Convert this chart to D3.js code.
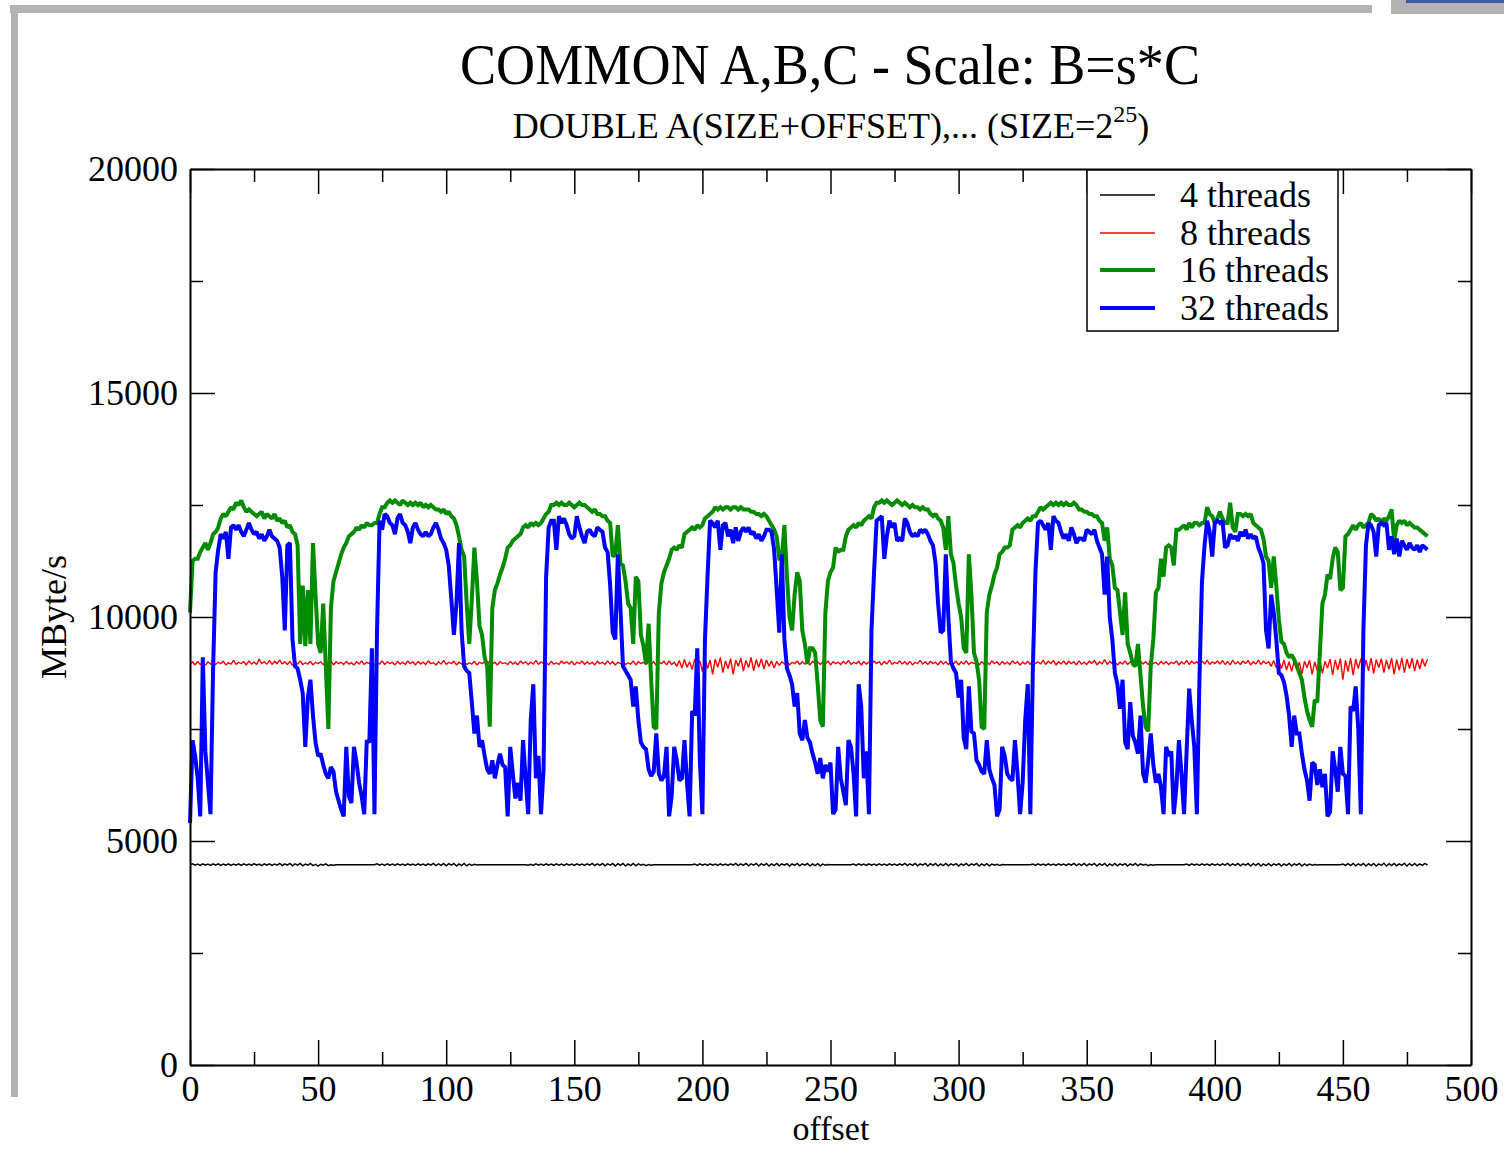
<!DOCTYPE html>
<html>
<head>
<meta charset="utf-8">
<script src="https://d3js.org/d3.v7.min.js"></script>
<style>
  body { margin: 0; background: #fff; }
  svg text { font-family: "Liberation Serif", "Times New Roman", serif; fill: #000; }
</style>
</head>
<body>
<div id="chart"></div>
<script>
// one value (MByte/s) per offset 0..483
var threads4 = [
4470,4490,4460,4485,4455,4490,4460,4485,4455,4490,
4460,4490,4455,4485,4460,4490,4455,4485,4460,4490,
4455,4490,4460,4485,4455,4495,4460,4485,4450,4490,
4460,4490,4455,4485,4460,4500,4450,4490,4460,4500,
4445,4490,4460,4500,4445,4485,4460,4500,4450,4480,
4440,4480,4460,4490,4450,4470,4460,4470,4470,4470,
4470,4470,4470,4470,4470,4470,4470,4470,4470,4470,
4470,4470,4470,4490,4460,4485,4455,4490,4460,4485,
4455,4490,4460,4485,4455,4490,4460,4485,4455,4490,
4460,4485,4455,4490,4460,4500,4450,4490,4455,4500,
4445,4495,4460,4500,4440,4490,4450,4500,4445,4485,
4455,4480,4465,4470,4470,4470,4470,4470,4470,4470,
4470,4470,4470,4470,4470,4470,4470,4470,4470,4470,
4470,4470,4460,4480,4455,4490,4460,4485,4455,4490,
4460,4485,4455,4490,4460,4485,4455,4490,4460,4485,
4455,4490,4460,4485,4455,4490,4460,4500,4450,4490,
4455,4500,4445,4490,4460,4500,4440,4495,4455,4500,
4440,4490,4450,4500,4445,4490,4460,4480,4450,4475,
4460,4470,4470,4470,4470,4470,4470,4470,4470,4470,
4470,4470,4470,4470,4470,4470,4470,4485,4455,4490,
4460,4485,4455,4490,4460,4485,4455,4490,4460,4485,
4455,4490,4460,4500,4450,4490,4455,4500,4445,4490,
4460,4500,4440,4495,4455,4500,4440,4490,4450,4500,
4445,4490,4460,4495,4440,4490,4455,4500,4445,4490,
4460,4500,4440,4490,4450,4495,4445,4485,4460,4475,
4470,4470,4470,4470,4470,4470,4470,4470,4470,4485,
4455,4490,4460,4485,4455,4490,4460,4485,4455,4490,
4460,4485,4455,4490,4460,4485,4455,4490,4460,4500,
4450,4490,4455,4500,4445,4490,4460,4500,4440,4495,
4455,4500,4440,4490,4450,4500,4445,4490,4460,4495,
4440,4490,4455,4500,4445,4490,4460,4500,4440,4490,
4450,4495,4445,4485,4460,4480,4455,4475,4470,4470,
4470,4470,4470,4470,4470,4470,4470,4470,4470,4485,
4455,4490,4460,4485,4455,4490,4460,4485,4455,4490,
4460,4485,4455,4490,4460,4500,4450,4490,4455,4500,
4445,4490,4460,4500,4440,4495,4455,4500,4440,4490,
4450,4500,4445,4490,4460,4495,4440,4490,4455,4500,
4445,4490,4460,4480,4450,4475,4460,4470,4470,4470,
4470,4470,4470,4470,4470,4470,4470,4470,4470,4485,
4455,4490,4460,4485,4455,4490,4460,4485,4455,4490,
4460,4485,4455,4490,4460,4500,4450,4490,4455,4500,
4445,4490,4460,4500,4440,4495,4455,4500,4440,4490,
4450,4500,4445,4490,4460,4495,4440,4490,4455,4500,
4445,4490,4460,4500,4440,4490,4450,4485,4460,4475,
4465,4470,4470,4470,4470,4470,4470,4470,4470,4470,
4485,4455,4495,4450,4500,4445,4490,4455,4500,4440,
4495,4450,4500,4440,4490,4455,4505,4440,4495,4450,
4500,4445,4490,4455,4505,4440,4495,4450,4500,4445,
4490,4455,4500,4460
];

var threads8 = [
8950,9000,8930,9010,8940,8990,8920,9000,8950,9020,
8940,8990,8960,9010,8930,8980,8950,9030,8940,8990,
8960,9000,8930,9020,8950,8990,8940,9060,8960,9000,
8950,9030,8940,9010,8960,9040,8950,9000,8940,9010,
8920,8990,8950,9020,8940,8980,8950,9010,8930,8990,
8960,9000,8940,8990,8950,9020,8930,9000,8960,8990,
8940,9010,8950,8980,8930,9000,8950,9020,8940,8990,
8960,9010,8930,8990,8950,9020,8940,9000,8960,8990,
8930,9010,8950,8990,8940,9020,8960,9000,8930,9010,
8950,8990,8940,9020,8960,8980,8930,9000,8950,9030,
8940,8990,8960,9010,8930,8990,8950,9020,8940,8980,
8950,9010,8930,8990,8960,9000,8940,9020,8950,8990,
8930,9000,8960,8980,8940,9010,8950,8990,8930,9020,
8960,9000,8940,8990,8950,9030,8940,9000,8960,8990,
8930,9010,8950,8980,8940,9020,8960,9000,8950,9010,
8930,8990,8960,9020,8940,9000,8950,8990,8930,9010,
8960,8990,8940,9020,8950,9000,8930,8990,8960,9010,
8940,8980,8950,9020,8930,9000,8960,8990,8940,9010,
8950,9000,8920,8990,8960,9010,8930,9020,8940,8990,
8900,9030,8860,9050,8880,9000,8830,9060,8900,9020,
8780,9080,8850,9040,8720,9060,8880,9100,8760,9020,
8850,9070,8720,9040,8900,9080,8790,9030,8870,9100,
8800,9050,8880,9070,8840,9040,8900,9020,8860,9010,
8920,9000,8950,9010,8930,8990,8960,9020,8940,9000,
8950,8990,8930,9010,8960,9000,8940,8990,8950,9020,
8930,9000,8960,8990,8940,9010,8950,9030,8940,8990,
8960,9010,8930,9000,8950,8990,8940,9020,8960,9000,
8930,9010,8950,9040,8940,8990,8960,9020,8950,9000,
8940,9010,8930,8990,8960,9030,8950,9000,8940,9010,
8960,8990,8930,9020,8950,9000,8940,8990,8960,9010,
8930,9000,8950,9020,8940,8990,8960,9010,8930,9000,
8950,8990,8940,9020,8960,9000,8930,9010,8950,8990,
8940,9020,8960,9000,8930,8990,8950,9010,8940,9030,
8960,9000,8950,9040,8940,9010,8960,9030,8930,9000,
8950,9020,8940,9010,8960,9000,8930,9020,8950,8990,
8940,9010,8960,9030,8930,9000,8950,9050,8940,9010,
8960,9000,8930,8990,8950,9020,8940,9000,8960,8990,
8930,9010,8950,9000,8940,9020,8960,8990,8930,9010,
8950,9000,8940,8990,8960,9020,8930,9000,8950,9030,
8940,9010,8960,9000,8930,9020,8950,9040,8940,9000,
8960,9020,8950,9030,8940,9010,8930,9040,8950,9000,
8940,9020,8960,9030,8930,9000,8950,9040,8940,9010,
8960,9000,8900,9030,8870,9010,8850,9040,8820,9000,
8790,9020,8850,8990,8730,9010,8870,9040,8720,9000,
8800,9050,8740,9010,8860,9060,8700,9040,8820,9070,
8600,9030,8780,9080,8700,9060,8850,9070,8720,9040,
8800,9080,8740,9050,8870,9070,8760,9040,8830,9080,
8720,9050,8810,9090,8760,9060,8850,9080,8790,9050,
8840,9070,8900,9060
];

var threads16 = [
10100,11250,11300,11300,11450,11550,11650,11500,11650,11850,
11900,12000,12200,12300,12250,12350,12450,12400,12550,12500,
12600,12450,12350,12400,12350,12300,12250,12300,12350,12200,
12300,12250,12200,12300,12150,12200,12100,12150,12000,12050,
11900,11850,11600,9400,10700,9350,10600,9400,11650,10500,
9400,9200,10300,8900,7500,10200,10800,11000,11200,11400,
11550,11650,11800,11850,11900,12000,11950,12050,12000,12100,
12050,12050,12100,12100,12300,12450,12450,12550,12600,12550,
12600,12550,12500,12600,12550,12500,12550,12500,12550,12500,
12550,12450,12500,12450,12500,12450,12400,12400,12350,12400,
12300,12350,12250,12200,12050,11800,11500,11350,10300,9400,
10400,11550,10800,9800,9600,9100,8900,7550,10200,10600,
10750,10950,11100,11300,11550,11600,11700,11750,11800,11850,
12000,12050,12000,12100,12050,12100,12050,12100,12200,12300,
12350,12500,12500,12550,12500,12550,12500,12500,12550,12500,
12450,12500,12550,12500,12500,12450,12400,12350,12400,12300,
12300,12250,12250,12150,12100,11350,11400,12050,11200,11150,
10800,10300,10200,9400,10900,10800,9600,9350,8950,9850,
8600,7550,7500,10100,10750,11000,11150,11300,11500,11550,
11500,11600,11550,11850,11900,11950,12000,11950,12050,12000,
12050,12200,12250,12300,12350,12450,12400,12450,12400,12450,
12450,12400,12450,12450,12400,12450,12400,12400,12400,12350,
12350,12300,12300,12250,12300,12250,12150,12050,11950,11800,
11300,11300,12050,10900,10000,9700,10500,11000,10800,9700,
9400,8950,9300,9300,9200,8500,7700,7550,10100,10800,
11000,11100,11550,11450,11500,11500,11800,11950,12000,12050,
12000,12100,12050,12150,12200,12250,12200,12450,12550,12550,
12600,12550,12600,12550,12500,12550,12600,12550,12500,12550,
12500,12450,12500,12450,12450,12400,12450,12400,12400,12300,
12250,12300,12200,12150,12000,11500,12250,11400,11200,10700,
10300,10000,9300,9200,11400,10500,9200,9000,8600,7550,
7500,10100,10500,10700,10950,11100,11400,11450,11550,11550,
11600,11950,12000,12050,12000,12100,12150,12200,12150,12250,
12250,12350,12450,12400,12450,12500,12550,12500,12550,12500,
12550,12500,12550,12500,12500,12550,12500,12400,12400,12350,
12350,12300,12300,12250,12250,12150,12100,11700,12000,11300,
11150,10650,10600,10100,9600,10550,9400,9200,8950,8900,
9400,8700,8000,7550,7450,8900,9500,10550,10650,11300,
10900,11550,11600,11550,11150,11950,11950,12000,12050,11950,
12100,12000,12100,12100,12050,12100,12100,12450,12300,12250,
12100,12200,12350,12200,12100,12100,12550,12000,11900,12300,
12300,12250,12300,12250,12300,12100,12050,12000,11950,11750,
11350,11250,10650,11350,10700,9950,9450,9400,9200,9100,
9150,9050,8900,8750,8600,8200,7900,7700,7550,8150,
8100,9200,10300,10500,10950,10850,11300,11550,11450,10600,
10650,11800,11850,11950,12050,11950,12050,12100,12000,12050,
12100,12300,12250,12150,12200,12100,12200,12150,12250,12400,
11700,12050,12150,12100,12150,12050,12100,12050,12000,12000,
11950,11900,11850,11800
];

var threads32 = [
5400,7250,6900,6400,5550,9100,7000,6300,5600,8800,
11000,11500,11850,11750,11900,11300,12000,12050,11950,12050,
11900,11800,11950,12100,11950,11850,11900,11750,11850,11700,
11800,11950,11800,11750,11700,11550,10900,9700,11600,11650,
9500,8900,8850,8600,8300,7100,8200,8600,7800,7200,
6900,6950,6700,6500,6400,6650,6550,6100,5900,5700,
5550,7100,6000,5850,7100,6750,6300,6000,5600,7250,
7200,9300,5600,9700,12150,11950,12300,12250,12100,12050,
11850,12200,12300,12100,12050,11900,11650,12000,12100,11950,
11850,11800,11900,11800,11850,12000,12100,11950,11750,11650,
11500,11150,10400,9600,10300,11650,9700,8900,8800,8750,
8100,7400,7800,7100,7250,6900,6600,6500,6800,6400,
6700,6950,6700,6650,5550,7100,6500,5950,6300,5900,
7250,6400,5600,7700,8500,6400,6900,5600,6600,10900,
12000,12150,12150,11500,12250,12100,12200,12050,11850,11750,
11800,12250,12000,11800,11650,11900,11950,11850,11800,12000,
11950,11900,11550,11450,10700,9650,9500,11400,10200,8900,
8800,8700,8600,8000,8450,7700,7200,7100,7050,6600,
6450,6550,7400,6500,6350,6450,7100,5550,6000,7100,
6800,6350,6400,7250,6300,5550,7900,7800,9300,6800,
5600,9500,10900,12150,12100,12000,12150,11500,12050,12100,
11800,11950,11650,12000,11700,11900,12000,11900,12000,11850,
11900,11750,11850,11700,11800,11950,11950,11900,11500,10600,
9650,11400,9500,8850,8700,8500,8000,8300,7400,7250,
7700,7300,7200,6950,6750,6500,6850,6400,6700,6550,
6750,5600,5700,7100,6400,6100,5800,7250,7100,6500,
5550,8500,8000,6400,7000,5600,9700,11000,12150,12200,
12250,11300,11800,12150,12000,12100,11700,11750,11700,12200,
12100,11900,11800,11850,11800,11950,11900,11950,11850,11700,
11600,11200,10300,9650,9700,11400,10000,9000,8850,8750,
8200,8600,7300,7050,8450,7450,7400,6800,6700,6550,
6500,7250,6600,6400,6250,5550,5700,7100,6900,6500,
6400,6350,7250,6500,5600,6300,7700,8500,5600,8900,
11000,12100,12150,12050,11950,12100,11500,12250,12150,12100,
11900,11750,11850,11700,12000,11850,11650,11750,11750,11700,
11950,11900,11850,11950,11700,11550,11400,10500,11350,10000,
9500,8750,8500,7950,8600,7200,7050,8100,7350,7200,
6950,7800,6500,6300,6800,7400,6700,6300,6500,6200,
5600,7100,6900,7000,5600,6200,7250,6500,5600,7000,
8400,7700,7100,5600,8600,10800,11600,12150,11900,11350,
12100,12150,12100,12150,11550,11600,11850,11750,11800,11700,
11900,11800,11950,11750,11850,11750,11800,11550,11400,11200,
9700,9300,10500,10100,9500,8750,8700,8550,8250,7800,
7100,7800,7400,7400,6950,6600,6350,5900,6750,6700,
6250,6600,6200,6500,5550,5650,7000,6600,6100,7100,
6500,6450,5600,8000,7900,8450,7500,5600,9700,11600,
12100,12050,11900,11350,12050,12100,12050,12100,11500,11800,
11400,11750,11350,11700,11600,11500,11650,11550,11500,11600,
11450,11600,11550,11500
];

var seriesNames = ["4 threads", "8 threads", "16 threads", "32 threads"];
var seriesColors = ["#000000", "#ff0000", "#008b00", "#0000ff"];
var seriesWidths = [1.4, 1.4, 4, 4];
var seriesData = [threads4, threads8, threads16, threads32];

var xTicks = [0, 50, 100, 150, 200, 250, 300, 350, 400, 450, 500];
var xMinorTicks = [25, 75, 125, 175, 225, 275, 325, 375, 425, 475];
var yTicks = [0, 5000, 10000, 15000, 20000];
var yMinorTicks = [2500, 7500, 12500, 17500];

// set the dimensions and margins of the graph
var margin = {top: 169, right: 33, bottom: 84, left: 190},
    width = 1504 - margin.left - margin.right,
    height = 1149 - margin.top - margin.bottom;

var root = d3.select("#chart")
  .append("svg")
    .attr("width", 1504)
    .attr("height", 1149);

root.append("rect").attr("width", 1504).attr("height", 1149).attr("fill", "#fff");

// window frame of the screenshot
root.append("rect").attr("x", 10).attr("y", 5).attr("width", 1362).attr("height", 8).attr("fill", "#b3b3b3");
root.append("rect").attr("x", 11).attr("y", 5).attr("width", 7).attr("height", 1092).attr("fill", "#b3b3b3");
root.append("rect").attr("x", 1391).attr("y", 0).attr("width", 113).attr("height", 14).attr("fill", "#b3b3b3");
root.append("rect").attr("x", 1406).attr("y", 0).attr("width", 98).attr("height", 3).attr("fill", "#3a5ba0");

var svg = root.append("g")
    .attr("transform", "translate(" + margin.left + "," + margin.top + ")");

var x = d3.scaleLinear().domain([0, 500]).range([0, width]);
var y = d3.scaleLinear().domain([0, 20000]).range([height, 0]);

// titles
root.append("text")
  .attr("x", 830).attr("y", 84)
  .attr("text-anchor", "middle")
  .attr("textLength", 740)
  .attr("lengthAdjust", "spacingAndGlyphs")
  .style("font-size", "58px")
  .text("COMMON A,B,C - Scale: B=s*C");

var sub = root.append("text")
  .attr("x", 831).attr("y", 138)
  .attr("text-anchor", "middle")
  .style("font-size", "36px");
sub.append("tspan").text("DOUBLE A(SIZE+OFFSET),... (SIZE=2");
sub.append("tspan").attr("dy", -16).style("font-size", "24px").text("25");
sub.append("tspan").attr("dy", 16).text(")");

// series lines, drawn in set order
var line = d3.line()
  .x(function(d, i) { return x(i); })
  .y(function(d) { return y(d); });

seriesData.forEach(function(data, k) {
  svg.append("path")
    .datum(data)
    .attr("fill", "none")
    .attr("stroke", seriesColors[k])
    .attr("stroke-width", seriesWidths[k])
    .attr("stroke-linejoin", "miter")
    .attr("stroke-miterlimit", 1.5)
    .attr("d", line);
});

// axes: ticks point inward on all four sides
function styleAxis(g) {
  g.select(".domain").attr("stroke-width", 2);
  g.selectAll(".tick line").attr("stroke-width", 1.5);
  g.selectAll("text").style("font-size", "36px").style("font-family", "Liberation Serif, serif");
}

var xAxis = svg.append("g")
  .attr("transform", "translate(0," + height + ")")
  .call(d3.axisBottom(x).tickValues(xTicks).tickSizeInner(-25).tickSizeOuter(0).tickFormat(d3.format("d")));
xAxis.call(styleAxis);
xAxis.selectAll("text").attr("y", 36).attr("dy", 0);

svg.append("g")
  .attr("transform", "translate(0," + height + ")")
  .call(d3.axisBottom(x).tickValues(xMinorTicks).tickSize(-13).tickFormat(""))
  .call(styleAxis)
  .select(".domain").remove();

svg.append("g")
  .call(d3.axisTop(x).tickValues(xTicks).tickSizeInner(-25).tickSizeOuter(0).tickFormat(""))
  .call(styleAxis);
svg.append("g")
  .call(d3.axisTop(x).tickValues(xMinorTicks).tickSize(-13).tickFormat(""))
  .call(styleAxis)
  .select(".domain").remove();

var yAxis = svg.append("g")
  .call(d3.axisLeft(y).tickValues(yTicks).tickSizeInner(-25).tickSizeOuter(0).tickFormat(d3.format("d")));
yAxis.call(styleAxis);
yAxis.selectAll("text").attr("x", -12).attr("dy", "0.33em");

svg.append("g")
  .call(d3.axisLeft(y).tickValues(yMinorTicks).tickSize(-13).tickFormat(""))
  .call(styleAxis)
  .select(".domain").remove();

svg.append("g")
  .attr("transform", "translate(" + width + ",0)")
  .call(d3.axisRight(y).tickValues(yTicks).tickSizeInner(-25).tickSizeOuter(0).tickFormat(""))
  .call(styleAxis);
svg.append("g")
  .attr("transform", "translate(" + width + ",0)")
  .call(d3.axisRight(y).tickValues(yMinorTicks).tickSize(-13).tickFormat(""))
  .call(styleAxis)
  .select(".domain").remove();

// axis labels
root.append("text")
  .attr("x", 831).attr("y", 1140)
  .attr("text-anchor", "middle")
  .style("font-size", "34px")
  .text("offset");

root.append("text")
  .attr("transform", "translate(66,617)rotate(-90)")
  .attr("text-anchor", "middle")
  .style("font-size", "36px")
  .text("MByte/s");

// legend
var legend = root.append("g");
legend.append("rect")
  .attr("x", 1087).attr("y", 170)
  .attr("width", 251).attr("height", 161)
  .attr("fill", "#fff")
  .attr("stroke", "#000")
  .attr("stroke-width", 1.5);

var legendRows = [195, 233, 270, 308];
seriesNames.forEach(function(name, k) {
  legend.append("line")
    .attr("x1", 1100).attr("x2", 1155)
    .attr("y1", legendRows[k]).attr("y2", legendRows[k])
    .attr("stroke", seriesColors[k])
    .attr("stroke-width", seriesWidths[k]);
  legend.append("text")
    .attr("x", 1180).attr("y", legendRows[k] + 12)
    .style("font-size", "36px")
    .text(name);
});
</script>
</body>
</html>
